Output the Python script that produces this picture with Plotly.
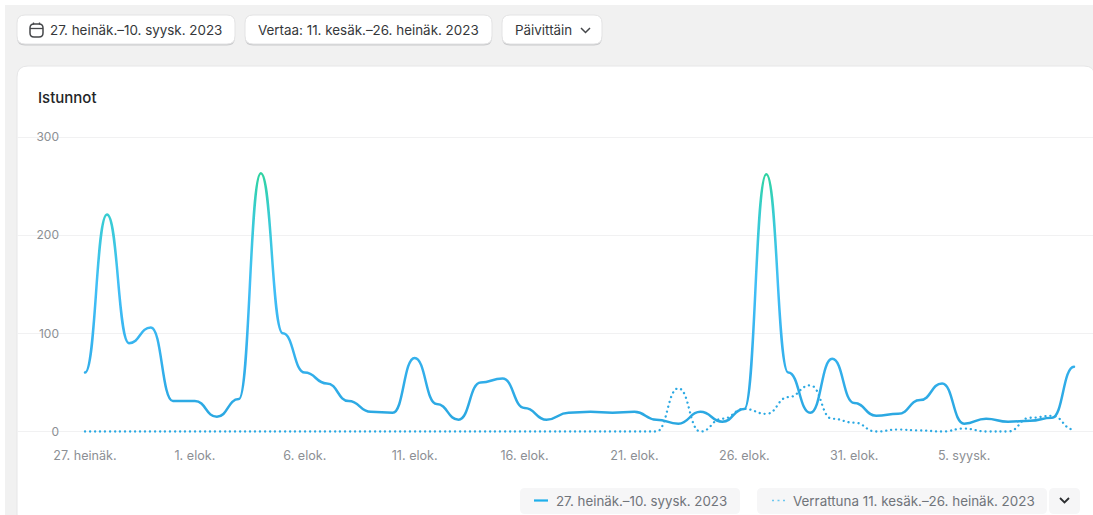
import pandas as pd
import plotly.graph_objects as go

W, H = 1093, 515

# Daily sessions, current period and comparison period
start_date = "2023-07-27"
sessions = [60, 221, 90, 106, 31, 31, 15, 33, 263, 100, 60, 49, 31, 20, 19, 75,
            28, 12, 50, 54, 24, 12, 19, 20, 19, 20, 12, 8, 20, 10, 23, 262,
            60, 19, 74, 29, 16, 18, 32, 49, 8, 13, 10, 11, 14, 66]
compare = [0, 0, 0, 0, 0, 0, 0, 0, 0, 0, 0, 0, 0, 0, 0, 0,
           0, 0, 0, 0, 0, 0, 0, 0, 0, 0, 0, 44, 0, 13, 23, 18,
           35, 47, 13, 9, 0, 2, 1, 0, 3, 0, 0, 14, 16, 2]
x_tick_dates = ["2023-07-27", "2023-08-01", "2023-08-06", "2023-08-11", "2023-08-16",
                "2023-08-21", "2023-08-26", "2023-08-31", "2023-09-05"]
x_tick_labels = ["27. heinäk.", "1. elok.", "6. elok.", "11. elok.", "16. elok.",
                 "21. elok.", "26. elok.", "31. elok.", "5. syysk."]
y_ticks = [0, 100, 200, 300]

dates = pd.date_range(start_date, periods=len(sessions), freq="D")

FONT = "Inter, Noto Sans, sans-serif"
GRID = "#f1f1f2"
AXIS_TEXT = "#8c8f94"
DARK = "#35373a"
BLUE = "#2ba9e3"

# Plot geometry in pixels
day_px = (1074 - 85) / (len(sessions) - 1)
plot_left, plot_right = 17, W
y0_px, y300_px = 431.5, 137
unit_px = (y0_px - y300_px) / 300
y_min, y_max = -10, 312


def px(v):
    return v / W


def py(v):
    return 1 - v / H


def rounded(x0, y0, x1, y1, r):
    pts = [
        f"M{px(x0 + r)},{py(y0)}", f"L{px(x1 - r)},{py(y0)}",
        f"Q{px(x1)},{py(y0)} {px(x1)},{py(y0 + r)}",
        f"L{px(x1)},{py(y1 - r)}", f"Q{px(x1)},{py(y1)} {px(x1 - r)},{py(y1)}",
        f"L{px(x0 + r)},{py(y1)}", f"Q{px(x0)},{py(y1)} {px(x0)},{py(y1 - r)}",
        f"L{px(x0)},{py(y0 + r)}", f"Q{px(x0)},{py(y0)} {px(x0 + r)},{py(y0)}", "Z",
    ]
    return "".join(pts)


def polyline(points):
    return "M" + "L".join(f"{px(a)},{py(b)}" for a, b in points)


def box(x0, y0, x1, y1, r, fill, line=None, layer="below"):
    return dict(type="path", xref="paper", yref="paper", layer=layer, path=rounded(x0, y0, x1, y1, r),
                fillcolor=fill, line=dict(color=line or fill, width=1 if line else 0))


def stroke(points, color, width):
    return dict(type="path", xref="paper", yref="paper", path=polyline(points),
                line=dict(color=color, width=width))


def label(x, y, text, size=13.4, color=DARK, anchor="left", weight=400):
    return dict(xref="paper", yref="paper", x=px(x), y=py(y), text=text, showarrow=False,
                xanchor=anchor, yanchor="middle", borderpad=0, borderwidth=0,
                font=dict(family=FONT, size=size, color=color, weight=weight))


shapes = [
    # page background and card
    box(5, 5, W + 8, H + 8, 0, "#f1f1f1"),
    box(17, 66, W + 2, H + 10, 11, "#ffffff", "#e6e6e7"),
    # toolbar button shadows and faces
    box(17, 16, 235, 45.5, 8, "#c9cacc"),
    box(245, 16, 492, 45.5, 8, "#c9cacc"),
    box(502, 16, 602, 45.5, 8, "#c9cacc"),
    box(17, 15, 235, 44, 8, "#ffffff", "#e3e3e4"),
    box(245, 15, 492, 44, 8, "#ffffff", "#e3e3e4"),
    box(502, 15, 602, 44, 8, "#ffffff", "#e3e3e4"),
    # legend chips
    box(520, 488, 740, 514, 5, "#f6f6f7"),
    box(757, 488, 1047, 514, 5, "#f6f6f7"),
    box(1049, 488, 1080, 514, 5, "#f6f6f7"),
    # calendar glyph
    dict(type="path", xref="paper", yref="paper", path=rounded(30, 24, 43, 37, 4),
         line=dict(color="#45474a", width=1.5)),
    stroke([(30, 28.5), (43, 28.5)], "#45474a", 1.3),
    stroke([(33.5, 22.5), (33.5, 24.5)], "#45474a", 1.3),
    stroke([(39.5, 22.5), (39.5, 24.5)], "#45474a", 1.3),
    # dropdown chevrons
    stroke([(581, 28), (585.5, 32.5), (590, 28)], "#45474a", 1.5),
    stroke([(1060, 498), (1064.5, 502.5), (1069, 498)], "#2c2e31", 1.8),
    # legend samples
    stroke([(534, 500.5), (548, 500.5)], "#1fb0eb", 2.2),
    dict(type="line", xref="paper", yref="paper", x0=px(772), x1=px(787), y0=py(500.5), y1=py(500.5),
         line=dict(color="#6cc7ef", width=1.6, dash="2px,3.5px")),
]

# white gaps in the gridlines behind the y tick labels
for tick in y_ticks:
    shapes.append(dict(type="rect", layer="between", xref="paper", yref="y",
                       x0=px(34), x1=px(62), y0=tick - 5, y1=tick + 5,
                       fillcolor="#ffffff", line=dict(width=0)))

annotations = [
    label(50, 30, "27. heinäk.–10. syysk. 2023"),
    label(258, 30, "Vertaa: 11. kesäk.–26. heinäk. 2023"),
    label(515, 30, "Päivittäin"),
    label(38, 98, "Istunnot", 15, "#232527", weight=500),
    label(556, 501, "27. heinäk.–10. syysk. 2023", 13.3, "#70747a"),
    label(793, 501, "Verrattuna 11. kesäk.–26. heinäk. 2023", 13.4, "#70747a"),
]

fig = go.Figure()
fig.add_trace(go.Scatter(
    x=dates, y=sessions, mode="lines", name="27. heinäk.–10. syysk. 2023",
    line=dict(color=BLUE, width=2.5, simplify=False), cliponaxis=False,
))
fig.add_trace(go.Scatter(
    x=dates, y=compare, mode="lines", name="Verrattuna 11. kesäk.–26. heinäk. 2023",
    line=dict(color=BLUE, width=2.3, simplify=False, dash="0.1px,4.9px"), cliponaxis=False,
))

x_from = dates[0] - pd.Timedelta(days=(85 - plot_left) / day_px)
x_to = dates[0] + pd.Timedelta(days=(plot_right - 85) / day_px)

fig.update_layout(
    width=W, height=H, autosize=False, showlegend=False,
    margin=dict(l=0, r=0, t=0, b=0, pad=0),
    paper_bgcolor="#ffffff", plot_bgcolor="rgba(0,0,0,0)",
    font=dict(family=FONT, size=12, color=AXIS_TEXT),
    shapes=shapes, annotations=annotations,
    xaxis=dict(
        domain=[px(plot_left), px(plot_right)], range=[x_from, x_to], type="date",
        tickmode="array", tickvals=x_tick_dates, ticktext=x_tick_labels,
        showgrid=False, zeroline=False, showline=False,
        ticks="outside", ticklen=3, tickcolor="rgba(0,0,0,0)",
        tickfont=dict(family=FONT, size=12.6, color=AXIS_TEXT),
    ),
    yaxis=dict(
        domain=[1 - (y0_px - y_min * unit_px) / H, 1 - (y0_px - y_max * unit_px) / H],
        range=[y_min, y_max], tickmode="array", tickvals=y_ticks,
        anchor="free", position=px(59), side="left",
        showgrid=True, gridcolor=GRID, gridwidth=1.2, zeroline=False, showline=False,
        ticks="", tickfont=dict(family=FONT, size=12, color=AXIS_TEXT),
    ),
    hovermode=False,
)

# Line styling done on the rendered paths: each run between two days becomes a
# horizontal-tangent cubic through the points Plotly placed, and the main series
# gets a vertical colour ramp (blue at low counts, green at the peaks).
post_js = """
var gd = document.getElementById('{plot_id}');
var svgNS = 'http://www.w3.org/2000/svg';
var svg = gd.querySelector('svg.main-svg');
var defs = svg.querySelector('defs') || svg.insertBefore(document.createElementNS(svgNS, 'defs'), svg.firstChild);
var grad = document.createElementNS(svgNS, 'linearGradient');
grad.setAttribute('id', 'sessionsRamp');
grad.setAttribute('x1', '0'); grad.setAttribute('y1', '0');
grad.setAttribute('x2', '0'); grad.setAttribute('y2', '1');
[[0, '#2fd3a1'], [0.16, '#38cdd0'], [0.44, '#41bff7'], [0.8, '#32aeea'], [1, '#2aa7e0']].forEach(function (s) {
  var stop = document.createElementNS(svgNS, 'stop');
  stop.setAttribute('offset', s[0]);
  stop.setAttribute('stop-color', s[1]);
  grad.appendChild(stop);
});
defs.appendChild(grad);
gd.querySelectorAll('.scatterlayer .trace .js-line').forEach(function (p, i) {
  var nums = p.getAttribute('d').match(/-?[0-9.]+/g).map(Number);
  var d = 'M' + nums[0] + ',' + nums[1];
  for (var k = 2; k + 1 < nums.length; k += 2) {
    var x0 = nums[k - 2], y0 = nums[k - 1], x1 = nums[k], y1 = nums[k + 1], mx = (x0 + x1) / 2;
    d += 'C' + mx + ',' + y0 + ' ' + mx + ',' + y1 + ' ' + x1 + ',' + y1;
  }
  p.setAttribute('d', d);
  p.style.strokeLinecap = 'round';
  if (i === 0) { p.style.stroke = 'url(#sessionsRamp)'; }
});
"""

fig.write_html("out.html", post_script=post_js, config={"displayModeBar": False})
